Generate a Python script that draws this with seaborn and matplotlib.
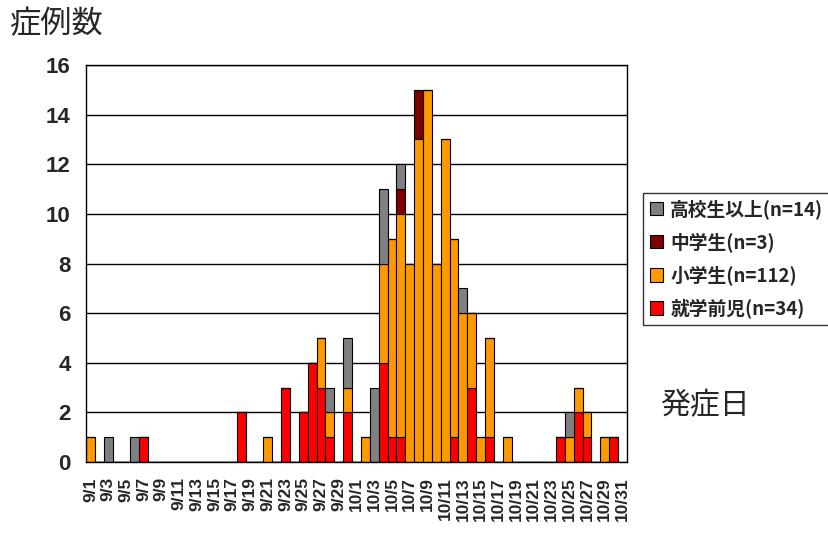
import pandas as pd
import matplotlib
matplotlib.use("Agg")
import matplotlib.pyplot as plt
import matplotlib.patches as mpatches
import seaborn as sns

# onset dates, 9/1 .. 10/31
dates = [f"9/{d}" for d in range(1, 31)] + [f"10/{d}" for d in range(1, 32)]

# daily case counts by group (index 0 = 9/1)
koukou = [0, 0, 1, 0, 0, 1, 0, 0, 0, 0,
          0, 0, 0, 0, 0, 0, 0, 0, 0, 0,
          0, 0, 0, 0, 0, 0, 0, 1, 0, 2,
          0, 0, 3, 3, 0, 1, 0, 0, 0, 0,
          0, 0, 1, 0, 0, 0, 0, 0, 0, 0,
          0, 0, 0, 0, 1, 0, 0, 0, 0, 0,
          0]
chugaku = [0, 0, 0, 0, 0, 0, 0, 0, 0, 0,
           0, 0, 0, 0, 0, 0, 0, 0, 0, 0,
           0, 0, 0, 0, 0, 0, 0, 0, 0, 0,
           0, 0, 0, 0, 0, 1, 0, 2, 0, 0,
           0, 0, 0, 0, 0, 0, 0, 0, 0, 0,
           0, 0, 0, 0, 0, 0, 0, 0, 0, 0,
           0]
shogaku = [1, 0, 0, 0, 0, 0, 0, 0, 0, 0,
           0, 0, 0, 0, 0, 0, 0, 0, 0, 0,
           1, 0, 0, 0, 0, 0, 2, 1, 0, 1,
           0, 1, 0, 4, 8, 9, 8, 13, 15, 8,
           13, 8, 6, 3, 1, 4, 0, 1, 0, 0,
           0, 0, 0, 0, 1, 1, 1, 0, 1, 0,
           0]
shugakumae = [0, 0, 0, 0, 0, 0, 1, 0, 0, 0,
              0, 0, 0, 0, 0, 0, 0, 2, 0, 0,
              0, 0, 3, 0, 2, 4, 3, 1, 0, 2,
              0, 0, 0, 4, 1, 1, 0, 0, 0, 0,
              0, 1, 0, 3, 0, 1, 0, 0, 0, 0,
              0, 0, 0, 1, 0, 2, 1, 0, 0, 1,
              0]

groups = ["高校生以上(n=14)", "中学生(n=3)", "小学生(n=112)", "就学前児(n=34)"]
colors = ["#808080", "#800000", "#FF9900", "#FF0000"]

rows = []
for name, series in zip(groups, [koukou, chugaku, shogaku, shugakumae]):
    for i, v in enumerate(series):
        if v > 0:
            rows.append({"day": i, "group": name, "count": v})
df = pd.DataFrame(rows)

sns.set_theme(style="white")
plt.rcParams["font.family"] = ["Noto Sans CJK JP", "DejaVu Sans"]

fig = plt.figure(figsize=(8.29, 5.34), dpi=100)
ax = fig.add_axes([0.1037, 0.1348, 0.6526, 0.7434])

sns.histplot(data=df, x="day", weights="count", hue="group", hue_order=groups,
             palette=colors, multiple="stack", discrete=True, shrink=1,
             edgecolor="black", linewidth=0.8, alpha=1, legend=False, ax=ax)

ax.set_xlim(-0.5, len(dates) - 0.5)
ax.set_ylim(0, 16)
ax.set_yticks(range(0, 17, 2))
ax.set_yticklabels([str(v) for v in range(0, 17, 2)],
                   fontsize=16, fontweight="bold", family="Liberation Sans")
ax.yaxis.grid(True, color="black", linewidth=1)
ax.set_axisbelow(True)

ax.set_xticks(range(0, len(dates), 2))
ax.set_xticklabels(dates[::2], rotation=90, fontsize=12.5, fontweight="bold",
                   family="Liberation Sans")
ax.set_xticks([i + 0.5 for i in range(-1, len(dates))], minor=True)
ax.tick_params(axis="x", which="major", length=0, pad=11)
ax.tick_params(axis="x", which="minor", direction="in", length=5, width=1, color="black")
ax.tick_params(axis="y", which="major", direction="out", length=4, width=1, color="black", pad=7)

for s in ax.spines.values():
    s.set_color("black")
    s.set_linewidth(1)

ax.set_xlabel("")
ax.set_ylabel("")
fig.text(0.012, 0.955, "症例数", fontsize=22.5, ha="left", va="center")
fig.text(0.850, 0.240, "発症日", fontsize=21.5, ha="center", va="center")

handles = [mpatches.Patch(facecolor=c, edgecolor="black", linewidth=0.8, label=g)
           for g, c in zip(groups, colors)]
leg = fig.legend(handles=handles, loc="upper left", bbox_to_anchor=(0.7756, 0.6386),
                 frameon=True, fancybox=False, edgecolor="black",
                 prop={"size": 13.5, "weight": "bold"},
                 handlelength=0.7, handleheight=0.7, handletextpad=0.4,
                 labelspacing=0.7, borderpad=0.35, borderaxespad=0)
leg.get_frame().set_linewidth(1)

fig.savefig("out.png", dpi=100)
